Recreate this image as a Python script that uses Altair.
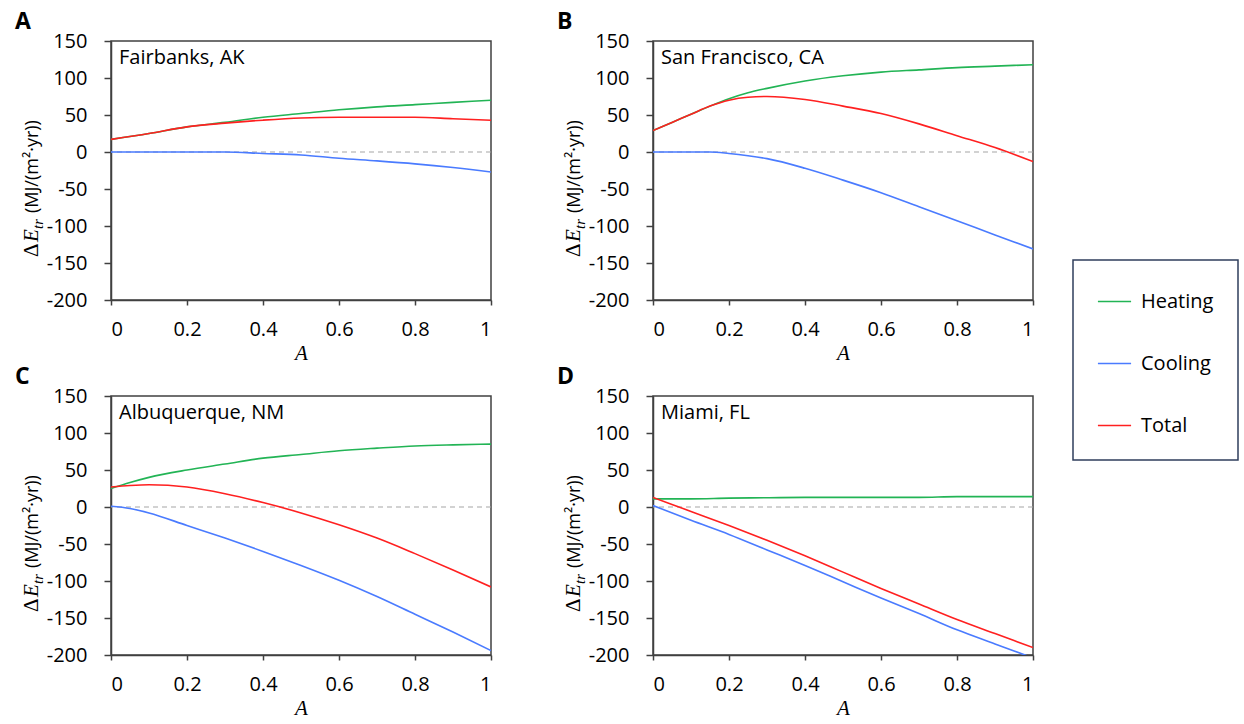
import altair as alt
import pandas as pd

# ---------------- data ----------------
SERIES = ["Heating", "Cooling", "Total"]
COLORS = ["#22B455", "#4A7BFF", "#FF2020"]

# A: Fairbanks, AK
a_x = [0, 0.1, 0.2, 0.3, 0.4, 0.5, 0.6, 0.7, 0.8, 0.9, 1.0]
a_heat = [17, 25, 34, 40, 47, 52, 57, 61, 64, 67, 70]
a_cool = [0, 0, 0, 0, -2, -4, -8.5, -12, -16, -21, -27]
a_total = [17, 25, 34, 39, 43, 46, 47, 47, 47, 45, 43]

# B: San Francisco, CA
b_x = [0, 0.05, 0.1, 0.15, 0.2, 0.25, 0.3, 0.4, 0.5, 0.6, 0.7, 0.8, 0.9, 1.0]
b_heat = [29, 40, 51, 62, 72, 80, 86, 96, 103, 108, 111, 114, 116, 118]
b_cool = [0, 0, 0, 0, -2, -5, -9, -22, -38, -55, -74, -93, -112, -131]
b_total = [29, 40, 51, 62, 70, 74, 75, 71, 62, 52, 38, 22, 6, -13]

# C: Albuquerque, NM
c_x = [0, 0.05, 0.1, 0.2, 0.3, 0.4, 0.5, 0.6, 0.7, 0.8, 0.9, 1.0]
c_heat = [25, 33, 40, 50, 58, 66, 71, 76, 79.5, 82.5, 84, 85]
c_cool = [1, -2, -8, -25, -42, -60, -79, -99, -121, -145, -169, -194]
c_total = [27, 29, 30, 27, 18, 6, -8, -24, -42, -63, -85, -108]

# D: Miami, FL
d_x = [0, 0.1, 0.2, 0.3, 0.4, 0.5, 0.6, 0.7, 0.8, 0.9, 1.0]
d_heat = [11, 11, 12, 12.5, 13, 13, 13, 13, 14, 14, 14]
d_cool = [2, -18, -37, -58, -79, -101, -123, -144, -166, -185, -204]
d_total = [13, -6, -25, -45, -66, -88, -110, -131, -152, -171, -190]

PANELS = [
    ("A", "Fairbanks, AK", a_x, a_heat, a_cool, a_total),
    ("B", "San Francisco, CA", b_x, b_heat, b_cool, b_total),
    ("C", "Albuquerque, NM", c_x, c_heat, c_cool, c_total),
    ("D", "Miami, FL", d_x, d_heat, d_cool, d_total),
]

X_TICKS = [0, 0.2, 0.4, 0.6, 0.8, 1.0]
Y_TICKS = [-200, -150, -100, -50, 0, 50, 100, 150]

FONT = "Open Sans"
SERIF = "Liberation Serif"
AXIS_COLOR = "#404040"
W, H = 380, 259
PAD_LEFT, PAD_TOP = 14, 10
FS = 20

LEGEND = alt.Legend(
    orient="none", legendX=962, legendY=219, title=None,
    strokeColor="#2F3E5C", padding=24, rowPadding=34,
    symbolType="stroke", symbolSize=1100, symbolStrokeWidth=1.6,
    labelFont=FONT, labelFontSize=FS, labelOffset=9, labelColor="#000",
)

XAXIS = alt.Axis(values=X_TICKS, labelExpr="toString(datum.value)",
                 labelFont=FONT, labelFontSize=FS, labelColor="#000",
                 labelOverlap=False,
                 title="A", titleFont=SERIF, titleFontStyle="italic",
                 titleFontWeight="normal", titleFontSize=21, titleColor="#000",
                 titlePadding=3, tickSize=5, labelPadding=14)
YAXIS = alt.Axis(values=Y_TICKS, labelExpr="toString(datum.value)",
                 labelFont=FONT, labelFontSize=FS, labelColor="#000",
                 labelOverlap=False,
                 title=None, tickSize=7, labelPadding=17)


def panel(letter, name, xs, heat, cool, total):
    rows = []
    for s, vals in zip(SERIES, [heat, cool, total]):
        for x, v in zip(xs, vals):
            rows.append({"A": x, "value": v, "series": s})
    df = pd.DataFrame(rows)

    xscale = alt.Scale(domain=[0, 1], nice=False, zero=False)
    yscale = alt.Scale(domain=[-200, 150], nice=False)

    zero = alt.Chart(pd.DataFrame({"value": [0]})).mark_rule(
        strokeDash=[5, 4], color="#A6A6A6", strokeWidth=1.2
    ).encode(y=alt.Y("value:Q", scale=yscale, axis=YAXIS))

    lines = alt.Chart(df).mark_line(clip=True, interpolate="monotone", strokeWidth=1.6).encode(
        x=alt.X("A:Q", scale=xscale, axis=XAXIS),
        y=alt.Y("value:Q", scale=yscale, axis=YAXIS),
        color=alt.Color("series:N", sort=SERIES,
                        scale=alt.Scale(domain=SERIES, range=COLORS), legend=LEGEND),
    )

    one = pd.DataFrame({"t": [0]})
    label = alt.Chart(one).mark_text(
        align="left", baseline="middle", font=FONT, fontSize=FS, color="#000"
    ).encode(x=alt.value(8), y=alt.value(17), text=alt.value(name))

    # composite y-axis title: ΔE_tr (MJ/(m²·yr))
    t1 = alt.Chart(one).mark_text(angle=270, align="left", baseline="alphabetic",
                                  font=SERIF, fontSize=21, color="#000").encode(
        x=alt.value(-73), y=alt.value(216), text=alt.value("Δ"))
    t2 = alt.Chart(one).mark_text(angle=270, align="left", baseline="alphabetic",
                                  font=SERIF, fontStyle="italic", fontSize=21, color="#000").encode(
        x=alt.value(-73), y=alt.value(201), text=alt.value("E"))
    t3 = alt.Chart(one).mark_text(angle=270, align="left", baseline="alphabetic",
                                  font=SERIF, fontStyle="italic", fontSize=15, color="#000").encode(
        x=alt.value(-68), y=alt.value(188), text=alt.value("tr"))
    t4 = alt.Chart(one).mark_text(angle=270, align="left", baseline="alphabetic",
                                  font=FONT, fontSize=18, color="#000").encode(
        x=alt.value(-73), y=alt.value(172), text=alt.value("(MJ/(m²·yr))"))

    return alt.layer(zero, lines, label, t1, t2, t3, t4).properties(
        width=W, height=H,
        title=alt.TitleParams(letter, anchor="start", frame="bounds", font=FONT,
                              fontSize=23, fontWeight="bold", color="#000",
                              offset=-3, dx=-6),
    )


pA = panel(*PANELS[0])
pB = panel(*PANELS[1])
pC = panel(*PANELS[2])
pD = panel(*PANELS[3])

chart = alt.vconcat(
    alt.hconcat(pA, pB, spacing=63),
    alt.hconcat(pC, pD, spacing=63),
    spacing=1,
).configure(
    padding={"left": PAD_LEFT, "top": PAD_TOP, "right": 0, "bottom": 0},
    background="white",
).configure_view(
    stroke=AXIS_COLOR, strokeWidth=1.5
).configure_axis(
    grid=False, domainColor=AXIS_COLOR, domainWidth=1.5, tickColor=AXIS_COLOR,
    tickWidth=1.5,
).configure_legend(
    strokeWidth=1.5
)

chart.save("out.html", embed_options={"renderer": "svg", "actions": False})
